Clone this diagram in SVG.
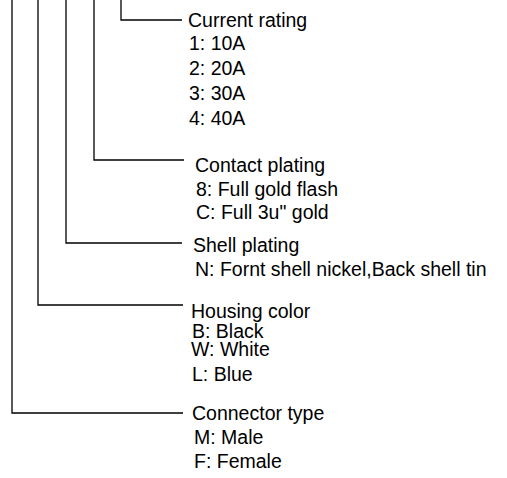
<svg xmlns="http://www.w3.org/2000/svg" width="507" height="478" viewBox="0 0 507 478">
<style>
.c{fill:none;stroke:#000;stroke-width:1.3}
text{font-family:"Liberation Sans",Arial,sans-serif;font-size:19.5px;fill:#000}
</style>
<rect width="507" height="478" fill="#fff"/>
<g id="connectors">
<path class="c" d="M121 0V20H182"/>
<path class="c" d="M94 0V160H184"/>
<path class="c" d="M66 0V243H182"/>
<path class="c" d="M38 0V305H183"/>
<path class="c" d="M12 0V413H183"/>
</g>
<g id="current-rating">
<text x="188" y="27">Current rating</text>
<text x="189" y="50">1: 10A</text>
<text x="189" y="75">2: 20A</text>
<text x="189" y="100">3: 30A</text>
<text x="189" y="125">4: 40A</text>
</g>
<g id="contact-plating">
<text x="195" y="172">Contact plating</text>
<text x="196" y="196">8: Full gold flash</text>
<text x="196" y="219">C: Full 3u" gold</text>
</g>
<g id="shell-plating">
<text x="193" y="252">Shell plating</text>
<text x="195" y="276">N: Fornt shell nickel,Back shell tin</text>
</g>
<g id="housing-color">
<text x="191" y="318">Housing color</text>
<text x="192" y="338">B: Black</text>
<text x="191" y="356">W: White</text>
<text x="192" y="381">L: Blue</text>
</g>
<g id="connector-type">
<text x="192" y="420">Connector type</text>
<text x="194" y="444">M: Male</text>
<text x="194" y="468">F: Female</text>
</g>
</svg>
